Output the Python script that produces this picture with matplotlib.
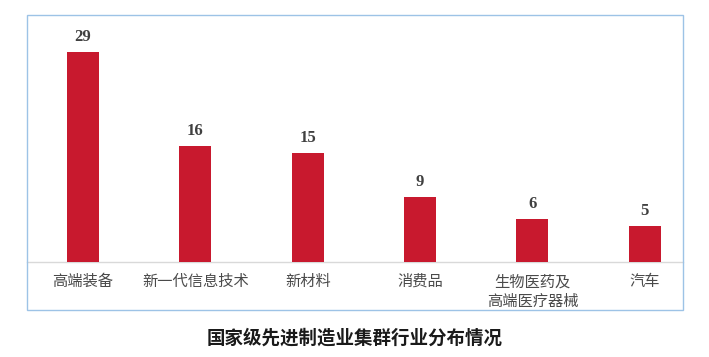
import matplotlib.pyplot as plt
from matplotlib.patches import Rectangle

plt.rcParams['font.family'] = ['Noto Sans CJK SC', 'DejaVu Sans']

industries = ['高端装备', '新一代信息技术', '新材料', '消费品', '生物医药及\n高端医疗器械', '汽车']
counts = [29, 16, 15, 9, 6, 5]

fig = plt.figure(figsize=(7.09, 3.57), dpi=100)

# light blue frame around the plot area
fig.patches.append(Rectangle((0.0381, 0.1317), 0.925, 0.826, transform=fig.transFigure,
                             fill=False, edgecolor='#9DC3E6', linewidth=1.0))

ax = fig.add_axes([0.0381, 0.2661, 0.925, 0.6919])
x = range(len(industries))
bars = ax.bar(x, counts, width=0.285, color='#C8192E', zorder=3)

for b, v in zip(bars, counts):
    ax.annotate(str(v), (b.get_x() + b.get_width() / 2, b.get_height()),
                xytext=(0, 5), textcoords='offset points', ha='center', va='bottom',
                fontsize=12, fontweight='bold', color='#404040', family='Liberation Serif')

ax.set_xlim(-0.498, 5.338)
ax.set_ylim(0, 34.1)
ax.set_xticks(list(x))
ax.set_xticklabels(industries, fontsize=11, color='#4A4A4A', fontweight='medium',
                   linespacing=1.2)
ax.tick_params(axis='x', length=0, pad=8)
ax.set_yticks([])
for s in ['top', 'right', 'left']:
    ax.spines[s].set_visible(False)
ax.spines['bottom'].set_color('#D9D9D9')
ax.spines['bottom'].set_linewidth(1.0)
ax.patch.set_alpha(0)

fig.text(0.5, 0.054, '国家级先进制造业集群行业分布情况', ha='center', va='center',
         fontsize=13.3, fontweight='bold', color='#1A1A1A')

fig.savefig('out.png', dpi=100)
